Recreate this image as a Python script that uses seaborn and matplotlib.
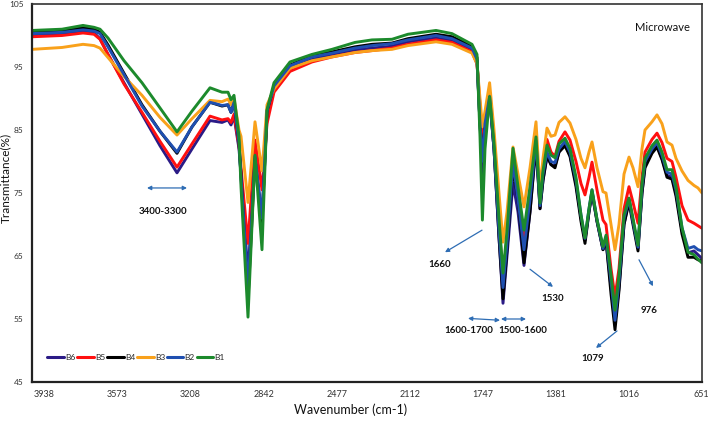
import matplotlib
matplotlib.use("Agg")
import matplotlib.pyplot as plt
import seaborn as sns
import pandas as pd

# ---------------- data ----------------
wavenumber = [4000, 3850, 3745, 3690, 3660, 3620, 3540, 3450, 3360, 3275, 3200, 3110, 3050, 3020,
              3005, 2990, 2965, 2955, 2920, 2885, 2850, 2825, 2790, 2710, 2600, 2500, 2385, 2300,
              2200, 2120, 1980, 1900, 1800, 1775, 1760, 1748, 1735, 1712, 1690, 1665, 1645, 1625,
              1595, 1570, 1540, 1510, 1480, 1460, 1445, 1425, 1405, 1385, 1365, 1335, 1310, 1280,
              1255, 1235, 1215, 1200, 1175, 1145, 1130, 1105, 1085, 1065, 1040, 1015, 995, 970,
              950, 935, 900, 875, 850, 825, 800, 780, 750, 720, 690, 670, 650]

B6 = [100.0, 100.2, 100.6, 100.4, 99.5, 97.0, 92.5, 87.5, 82.5, 78.2, 82.0, 86.5, 86.2, 86.6,
      85.8, 87.2, 82.0, 78.0, 62.0, 80.5, 71.0, 87.0, 91.5, 94.8, 96.2, 97.0, 97.7, 98.0,
      98.3, 99.0, 99.6, 99.2, 97.8, 96.0, 86.0, 78.0, 85.0, 90.0, 82.0, 68.0, 57.5, 65.0,
      76.6, 72.0, 63.5, 72.0, 82.5, 72.5, 77.0, 80.8, 79.5, 79.3, 81.5, 82.8, 81.0, 76.5,
      71.0, 67.5, 72.0, 75.0, 70.5, 66.0, 67.5, 60.0, 54.5, 60.0, 70.0, 74.0, 70.5, 66.2,
      75.0, 79.5, 81.5, 82.5, 80.5, 77.8, 77.5, 75.0, 69.0, 65.5, 65.8, 65.2, 64.6]

B5 = [99.8, 100.0, 100.4, 100.2, 99.4, 97.0, 92.3, 87.8, 83.2, 79.1, 82.8, 87.2, 86.6, 86.8,
      86.2, 87.5, 82.5, 79.0, 67.0, 83.4, 75.5, 86.0, 91.0, 94.3, 95.8, 96.6, 97.3, 97.6,
      98.0, 98.6, 99.3, 98.9, 97.4, 95.5, 89.0, 84.0, 87.0, 91.0, 83.0, 70.0, 61.5, 68.0,
      80.5, 76.0, 67.0, 75.0, 84.0, 74.5, 79.0, 83.5, 81.5, 80.8, 83.2, 84.7, 83.4, 80.0,
      76.5, 74.7, 77.5, 79.9, 75.5, 70.7, 70.0, 63.0, 58.5, 63.0, 72.5, 76.0, 73.5, 70.2,
      77.5, 81.5, 83.5, 84.5, 83.0, 80.5, 80.0, 77.5, 73.0, 70.7, 70.2, 69.8, 69.4]

B4 = [100.6, 100.8, 101.2, 101.0, 100.5, 98.5, 94.0, 89.0, 84.8, 81.3, 85.5, 89.4, 88.8, 89.0,
      87.8, 89.4, 83.0, 78.0, 58.0, 80.5, 70.0, 88.0, 92.0, 95.3, 96.8, 97.4, 98.2, 98.6,
      98.8, 99.5, 100.2, 99.8, 98.3, 96.5, 86.0, 80.0, 86.0, 90.5, 82.0, 68.0, 58.2, 66.0,
      79.0, 74.0, 63.9, 72.0, 83.0, 72.5, 77.0, 81.0, 79.5, 79.0, 81.5, 82.5, 80.8, 76.0,
      70.5, 67.0, 72.0, 75.2, 70.5, 66.0, 67.5, 59.0, 53.3, 59.5, 70.0, 73.5, 70.0, 65.8,
      75.0, 79.0, 81.3, 82.3, 80.3, 77.5, 77.2, 74.5, 68.5, 64.8, 64.8, 64.4, 64.2]

B3 = [97.8, 98.1, 98.6, 98.4, 98.0, 96.5, 93.5, 90.5, 87.0, 84.2, 86.8, 89.7, 89.5, 89.9,
      89.0, 90.0, 85.0, 84.0, 73.5, 86.3, 78.5, 89.0, 91.5, 94.8, 96.0, 96.6, 97.3, 97.6,
      97.8, 98.4, 99.0, 98.6, 97.2, 95.5, 90.0, 85.5, 88.0, 92.5, 85.0, 75.0, 67.2, 72.0,
      82.3, 78.0, 72.8, 79.0, 86.3, 75.5, 80.5, 85.3, 84.0, 84.2, 86.2, 87.1, 86.1, 83.5,
      80.5, 79.0, 81.5, 83.1, 79.0, 75.2, 75.0, 70.0, 66.0, 70.0, 78.0, 80.7, 79.0, 76.0,
      82.0, 85.0, 86.3, 87.4, 86.0, 83.1, 82.6, 80.5, 78.5, 77.0, 76.2, 75.8, 75.0]

B2 = [100.3, 100.5, 100.9, 100.7, 100.3, 98.2, 93.8, 88.8, 84.8, 81.5, 85.5, 89.4, 88.9, 89.0,
      87.8, 89.4, 83.0, 77.5, 60.0, 80.8, 71.0, 88.0, 92.0, 95.2, 96.6, 97.2, 98.0, 98.4,
      98.7, 99.3, 100.0, 99.5, 98.0, 96.2, 86.0, 80.0, 86.0, 90.3, 82.0, 69.0, 60.0, 67.0,
      79.8, 74.0, 66.0, 74.0, 83.3, 73.0, 78.0, 81.5, 80.0, 79.8, 82.0, 83.2, 81.5, 77.0,
      71.5, 67.8, 72.5, 75.5, 70.8, 66.2, 68.0, 61.0, 54.8, 61.0, 71.0, 74.0, 70.5, 66.4,
      76.0, 80.0, 82.0, 83.0, 81.0, 78.3, 78.0, 75.5, 69.5, 66.2, 66.5, 66.0, 65.8]

B1 = [100.8, 101.0, 101.6, 101.3, 101.0, 99.6, 96.0, 92.5, 88.5, 84.7, 88.0, 91.7, 91.0, 91.0,
      89.8, 90.5, 84.0, 76.0, 55.3, 81.0, 66.0, 88.2, 92.5, 95.8, 97.0, 97.8, 98.9, 99.3,
      99.4, 100.2, 100.8, 100.3, 98.6, 97.0, 84.0, 70.7, 82.0, 90.3, 83.0, 71.0, 62.3, 69.0,
      82.1, 76.0, 69.1, 76.0, 83.9, 73.4, 78.5, 82.6, 81.0, 80.6, 82.8, 83.7, 82.1, 77.5,
      71.5, 67.9, 72.5, 75.5, 70.8, 66.5, 68.3, 62.0, 56.4, 62.0, 71.5, 74.2, 71.0, 66.7,
      76.5, 80.5, 82.5, 83.4, 81.5, 78.7, 78.7, 76.0, 69.5, 65.6, 65.2, 64.5, 63.9]

samples = ["B6", "B5", "B4", "B3", "B2", "B1"]
series = [B6, B5, B4, B3, B2, B1]
colors = ["#2B1B86", "#FF1010", "#000000", "#F9A11B", "#1F4FB0", "#1C8A2C"]

xtick_values = [3938, 3573, 3208, 2842, 2477, 2112, 1747, 1381, 1016, 651]
xtick_labels = ["3938", "3573", "3208", "2842", "2477", "2112", "1747", "1381", "1016", "651"]
ytick_values = [45, 55, 65, 75, 85, 95, 105]

# ---------------- frame ----------------
rows = []
for name, vals in zip(samples, series):
    for w, t in zip(wavenumber, vals):
        rows.append({"wavenumber": w, "T": t, "sample": name})
df = pd.DataFrame(rows)

sns.set_theme(style="white")
plt.rcParams["font.family"] = ["Lato", "DejaVu Sans"]

fig = plt.figure(figsize=(7.09, 4.24), dpi=100)
ax = fig.add_axes([32 / 709, 42 / 424, 670 / 709, 378 / 424])

sns.lineplot(data=df, x="wavenumber", y="T", hue="sample", hue_order=samples,
             palette=dict(zip(samples, colors)), linewidth=2.1, ax=ax, legend=True)

ax.set_xlim(4000, 650)
ax.set_ylim(45, 105)
ax.set_xticks(xtick_values)
ax.set_xticklabels(xtick_labels)
ax.set_yticks(ytick_values)
ax.tick_params(axis="x", length=0, labelsize=6.5, colors="#333333", pad=6)
ax.tick_params(axis="y", length=0, labelsize=6, colors="#333333", pad=6)

for s in ["left", "bottom"]:
    ax.spines[s].set_color("#222222")
    ax.spines[s].set_linewidth(1.6)
for s in ["top", "right"]:
    ax.spines[s].set_color("#333333")
    ax.spines[s].set_linewidth(1.2)

ax.set_xlabel("Wavenumber (cm-1)", fontsize=9, color="#111111")
ax.set_ylabel("Transmittance(%)", fontsize=8.5, color="#111111")
ax.xaxis.set_label_coords(0.475, -0.058)
ax.yaxis.set_label_coords(-0.031, 0.54)

leg = ax.legend(loc="center left", bbox_to_anchor=(0.018, 0.066), ncol=6, frameon=False,
                fontsize=6, handlelength=2.0, handletextpad=0.15, columnspacing=0.2,
                borderaxespad=0)
for line in leg.get_lines():
    line.set_linewidth(2.2)

ax.text(0.982, 0.939, "Microwave", transform=ax.transAxes, ha="right", va="center",
        fontsize=8, color="#111111")

arrow_color = "#2E6DB4"
single = dict(arrowstyle="-|>", color=arrow_color, lw=0.9, mutation_scale=6, shrinkA=0, shrinkB=0)
double = dict(arrowstyle="<|-|>", color=arrow_color, lw=0.9, mutation_scale=6, shrinkA=0, shrinkB=0)

# double arrows
ax.annotate("", xy=(3225, 75.8), xytext=(3425, 75.8), arrowprops=double)
ax.annotate("", xy=(1660, 54.8), xytext=(1820, 55.1), arrowprops=double)
ax.annotate("", xy=(1530, 55.0), xytext=(1655, 55.0), arrowprops=double)
# single arrows
ax.annotate("", xy=(1935, 65.6), xytext=(1750, 69.1), arrowprops=single)
ax.annotate("", xy=(1395, 60.1), xytext=(1510, 62.9), arrowprops=single)
ax.annotate("", xy=(1180, 50.4), xytext=(1075, 53.1), arrowprops=single)
ax.annotate("", xy=(895, 60.2), xytext=(965, 64.4), arrowprops=single)

label_kw = dict(ha="center", va="center", fontsize=7, fontweight="bold", color="#111111")
ax.text(3345, 72.1, "3400-3300", **label_kw)
ax.text(1960, 63.7, "1660", **label_kw)
ax.text(1395, 58.2, "1530", **label_kw)
ax.text(1815, 53.1, "1600-1700", **label_kw)
ax.text(1545, 53.1, "1500-1600", **label_kw)
ax.text(1195, 48.7, "1079", **label_kw)
ax.text(915, 56.4, "976", **label_kw)

fig.savefig("out.png", dpi=100)
